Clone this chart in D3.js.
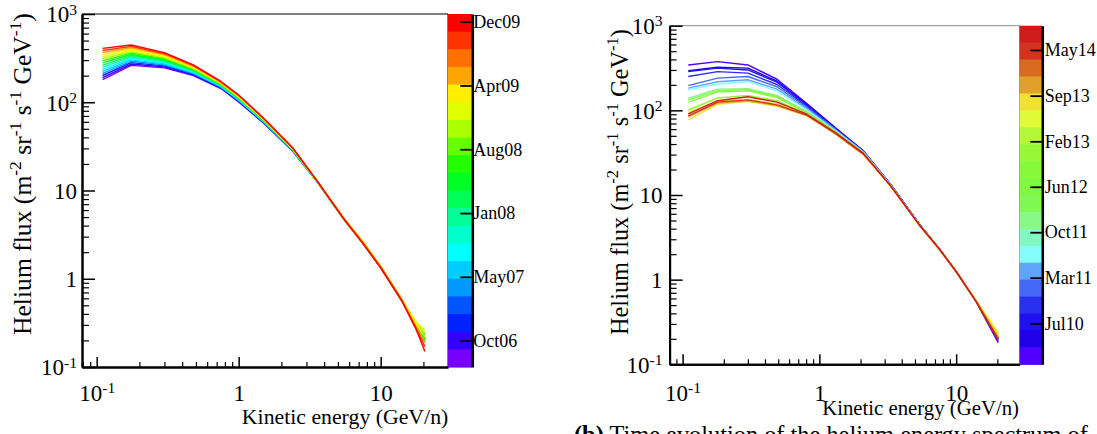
<!DOCTYPE html>
<html><head><meta charset="utf-8">
<script src="https://cdn.jsdelivr.net/npm/d3@7"></script>
<style>
html,body{margin:0;padding:0;background:#fff;}
svg{display:block;}
svg text{font-family:"Liberation Serif","Times New Roman","DejaVu Serif",serif;}
</style></head><body>
<svg id="c" width="1097" height="434"></svg>
<script>
// ---------- data ----------
const leftEnergy = [0.11,0.175,0.30,0.48,0.75,1.0,1.5,2.4,3.6,5.5,7.5,10,14,17.9,20.5];
const leftDates = ["2006-07-15","2006-10-05","2006-12-25","2007-03-20","2007-06-10","2007-09-01","2007-11-20","2008-02-10",
                   "2008-05-05","2008-07-25","2008-10-15","2009-01-05","2009-03-30","2009-06-20","2009-09-10","2009-12-15"];
const leftFlux = [
 [180,262,245,200,143,101,58.0,28.0,12.4,4.75,2.55,1.35,0.58,0.29,0.20],
 [190,271,252,204,145,102,58.5,28.2,12.3,4.70,2.50,1.33,0.57,0.29,0.21],
 [201,281,258,208,147,103.5,59.0,28.3,12.5,4.80,2.60,1.37,0.59,0.28,0.19],
 [212,291,265,211,148,105,59.5,28.5,12.4,4.75,2.55,1.36,0.58,0.30,0.22],
 [224,302,272,215,150,106,60.0,28.6,12.3,4.70,2.50,1.34,0.57,0.29,0.20],
 [236,313,280,220,152,107,60.5,28.8,12.5,4.80,2.60,1.37,0.60,0.30,0.21],
 [250,324,287,224,154,109,61.0,29.0,12.6,4.85,2.60,1.38,0.60,0.31,0.22],
 [264,336,295,228,156,110,61.5,29.1,12.4,4.75,2.55,1.35,0.58,0.29,0.20],
 [279,348,303,232,158,111,62.1,29.3,12.5,4.80,2.60,1.37,0.59,0.31,0.23],
 [294,360,311,237,160,113,62.6,29.5,12.6,4.85,2.65,1.38,0.60,0.30,0.21],
 [311,373,320,241,162,114,63.1,29.6,12.4,4.70,2.50,1.34,0.57,0.31,0.24],
 [328,387,328,246,164,115,63.7,29.8,12.5,4.80,2.60,1.36,0.59,0.32,0.26],
 [346,401,337,250,166,117,64.2,30.0,12.7,4.90,2.65,1.38,0.60,0.30,0.22],
 [366,415,346,255,168,118,64.8,30.2,12.6,4.85,2.60,1.37,0.59,0.28,0.19],
 [386,430,355,260,170,120,65.4,30.3,12.5,4.80,2.55,1.35,0.58,0.27,0.17],
 [408,446,365,265,172,121,66.0,30.5,12.6,4.75,2.50,1.33,0.57,0.26,0.15]
];
const rightEnergy = [0.11,0.18,0.30,0.49,0.81,1.3,2.1,3.3,5.4,7.5,10,14,20.3];
const rightDates = ["2010-01-15","2010-04-15","2010-06-15","2010-09-15","2011-01-15","2011-04-15","2011-08-01","2012-01-01",
                    "2012-05-01","2012-09-01","2013-01-01","2013-06-01","2013-09-15","2013-12-15","2014-04-01","2014-07-01"];
const rightFlux = [
 [344,376,344,233,120,63,33.0,13.5,4.50,2.35,1.25,0.56,0.19],
 [295,323,315,222,117,62,33.0,13.4,4.50,2.35,1.26,0.56,0.20],
 [287,315,300,215,115,62,33.0,13.4,4.50,2.33,1.25,0.55,0.18],
 [251,287,275,202,112,61,32.5,13.3,4.50,2.34,1.24,0.56,0.20],
 [196,240,251,190,108,60,32.5,13.3,4.50,2.35,1.25,0.56,0.21],
 [183,218,230,178,104,59,32.0,13.2,4.45,2.33,1.25,0.55,0.20],
 [175,205,218,170,101,58,32.0,13.2,4.45,2.34,1.24,0.56,0.21],
 [139,178,180,150,96,57,31.5,13.1,4.40,2.32,1.24,0.56,0.22],
 [133,171,175,146,95,56,31.5,13.1,4.40,2.33,1.25,0.57,0.23],
 [124,165,170,142,93,56,31.0,13.0,4.40,2.32,1.24,0.56,0.22],
 [101,140,150,130,90,55,31.0,13.0,4.40,2.33,1.25,0.57,0.23],
 [95,128,135,120,88,54,30.5,12.9,4.40,2.32,1.24,0.57,0.24],
 [77,118,127,112,86,53,30.0,12.9,4.35,2.30,1.24,0.56,0.22],
 [84,122,130,114,87,53,30.0,12.9,4.35,2.31,1.24,0.56,0.21],
 [86,125,133,116,88,54,30.5,12.9,4.40,2.31,1.24,0.55,0.20],
 [91,130,145,125,90,55,31.0,13.0,4.40,2.32,1.25,0.55,0.19]
];
const yTickValues = [0.1,1,10,100,1000];
const yTickLabels = ["10^-1","1","10","10^2","10^3"];
const xTickValues = [0.1,1,10];
const xTickLabels = ["10^-1","1","10"];
const leftBarLabels = ["Oct06","May07","Jan08","Aug08","Apr09","Dec09"];
const leftBarTickDates = ["2006-10-01","2007-05-21","2008-01-08","2008-08-27","2009-04-16","2009-12-04"];
const leftBarRange = ["2006-06-27","2010-01-01"];
const rightBarLabels = ["Jul10","Mar11","Oct11","Jun12","Feb13","Sep13","May14"];
const rightBarTickDates = ["2010-07-20","2011-03-10","2011-10-28","2012-06-16","2013-02-03","2013-09-24","2014-05-15"];
const rightBarRange = ["2009-12-23","2014-09-16"];
// palettes listed top -> bottom
const leftPalette = ["#ff0000","#ff3300","#ff7000","#ffa500","#ffee00","#dfff00","#aaff00","#66ff00","#22ff00","#00ff22",
                     "#00ff55","#00ff99","#00ffcc","#00ffff","#00ccff","#0099ff","#0055ff","#0022ff","#3300ff","#7700ff"];
const rightPalette = ["#d11c1c","#d4321f","#d86a22","#e0a02a","#f0e232","#e0fa38","#b4f838","#98f838","#88f83a","#80f840",
                      "#80f852","#88f888","#80f8c0","#84fcfc","#60a4f8","#4468f8","#2a30f0","#2010f0","#2000e8","#5000ff"];
const yTitle = ["Helium flux (m","^-2"," sr","^-1"," s","^-1"," GeV","^-1",")"];
const xTitle = "Kinetic energy (GeV/n)";
const captionBold = "(b)";
const captionText = " Time evolution of the helium energy spectrum of";

// ---------- drawing ----------
const FONT = "'Liberation Serif', 'Times New Roman', 'DejaVu Serif', serif";
const svg = d3.select("#c").attr("font-family", FONT);
const parse = d3.timeParse("%Y-%m-%d");

function setSupLabel(sel, str, size) {
  const parts = str.split("^");
  sel.text(null).attr("font-size", size).attr("font-family", FONT);
  sel.append("tspan").text(parts[0]);
  if (parts[1]) sel.append("tspan").attr("font-size", "0.68em").attr("dy", "-0.5em").text(parts[1]);
}

function minorTicks(dom) {
  const out = [];
  [0.01,0.1,1,10,100].forEach(d => { for (let m = 2; m <= 9; m++) { const v = +(m*d).toPrecision(3); if (v >= dom[0] && v <= dom[1]) out.push(v); } });
  return out;
}

function drawPanel(o) {
  const g = svg.append("g");
  const x = d3.scaleLog().domain(o.xDomain).range([o.x0, o.x1]);
  const y = d3.scaleLog().domain([0.1, 1000]).range([o.y1, o.y0]);
  const tr = o.barRange.map(parse);
  const bar = d3.scaleTime().domain(tr).range([o.y1, o.y0]);
  const nb = o.palette.length;
  const colorOf = s => {
    const f = (parse(s) - tr[0]) / (tr[1] - tr[0]);
    const i = Math.max(0, Math.min(nb - 1, nb - 1 - Math.floor(f * nb)));
    return o.palette[i];
  };
  // frame
  g.append("line").attr("x1", o.x0).attr("x2", o.x1).attr("y1", o.y0).attr("y2", o.y0)
    .attr("stroke", o.frameColor).attr("stroke-width", 1);
  g.append("line").attr("x1", o.x1).attr("x2", o.x1).attr("y1", o.y0).attr("y2", o.y1)
    .attr("stroke", o.frameColor).attr("stroke-width", 1);
  // series
  const line = d3.line().x((d, i) => x(o.energy[i])).y(d => y(d));
  g.append("g").selectAll("path").data(o.flux).join("path")
    .attr("d", line).attr("fill", "none")
    .attr("stroke", (d, i) => colorOf(o.dates[i]))
    .attr("stroke-width", 1.4).attr("stroke-linejoin", "round");
  // axes
  const styleAxis = (ax, w) => {
    ax.selectAll(".tick line").attr("stroke", "#000").attr("stroke-width", w);
    ax.select(".domain").attr("stroke", "#000").attr("stroke-width", 2);
    ax.attr("font-family", FONT);
  };
  const xMin = g.append("g").attr("transform", `translate(0,${o.y1})`)
    .call(d3.axisBottom(x).tickValues(minorTicks(o.xDomain)).tickSize(-5).tickSizeOuter(0).tickFormat(""));
  styleAxis(xMin, 1.2);
  const xMaj = g.append("g").attr("transform", `translate(0,${o.y1})`)
    .call(d3.axisBottom(x).tickValues(xTickValues).tickSize(-10).tickSizeOuter(0));
  styleAxis(xMaj, 1.5);
  xMaj.selectAll(".tick text").attr("y", o.xLabOff).attr("dy", null).attr("fill", "#000")
    .each(function(d, i) { setSupLabel(d3.select(this), xTickLabels[i], 23); });

  const yMin = g.append("g").attr("transform", `translate(${o.x0},0)`)
    .call(d3.axisLeft(y).tickValues(minorTicks([0.1, 1000])).tickSize(-7).tickSizeOuter(0).tickFormat(""));
  styleAxis(yMin, 1.2);
  const yMaj = g.append("g").attr("transform", `translate(${o.x0},0)`)
    .call(d3.axisLeft(y).tickValues(yTickValues).tickSize(-13).tickSizeOuter(0).tickPadding(o.yPad));
  styleAxis(yMaj, 1.5);
  yMaj.selectAll(".tick text").attr("fill", "#000").attr("dy", "0.34em")
    .each(function(d, i) { setSupLabel(d3.select(this), yTickLabels[i], 23); });

  // colorbar
  const bh = (o.y1 - o.y0) / nb;
  g.append("g").selectAll("rect").data(o.palette).join("rect")
    .attr("x", o.x1).attr("width", o.barW)
    .attr("y", (d, i) => o.y0 + i * bh).attr("height", bh + 0.6)
    .attr("fill", d => d);
  const bAx = g.append("g").attr("transform", `translate(${o.x1 + o.barW},0)`)
    .call(d3.axisRight(bar).tickValues(o.barTicks.map(parse)).tickSize(-12).tickSizeOuter(0).tickPadding(o.barPad)
      .tickFormat((d, i) => o.barLabels[i]));
  styleAxis(bAx, 1.8);
  bAx.select(".domain").attr("stroke-width", 2.5);
  bAx.selectAll(".tick text").attr("font-size", 18).attr("fill", "#000").attr("font-family", FONT);

  // titles
  const yt = g.append("text").attr("transform", `translate(${o.ytX},${o.ytY}) rotate(-90)`)
    .attr("text-anchor", "start").attr("font-size", 22).attr("fill", "#000").attr("font-family", FONT);
  let raised = false;
  yTitle.forEach(p => {
    if (p.startsWith("^")) { yt.append("tspan").attr("font-size", "0.68em").attr("dy", "-0.6em").text(p.slice(1)); raised = true; }
    else { const t = yt.append("tspan").text(p); if (raised) { t.attr("dy", "0.408em"); raised = false; } }
  });
  const yl = yt.node().getComputedTextLength();
  yt.attr("font-size", 22 * o.ytLen / yl);

  const xt = g.append("text").attr("x", o.xtX).attr("y", o.xtY).attr("text-anchor", "end")
    .attr("font-size", 20).attr("fill", "#000").attr("font-family", FONT).text(xTitle);
  const xl = xt.node().getComputedTextLength();
  xt.attr("font-size", 20 * o.xtLen / xl);
}

drawPanel({
  x0: 82, x1: 448, y0: 14, y1: 367, xDomain: [0.0788, 29.8],
  energy: leftEnergy, flux: leftFlux, dates: leftDates,
  palette: leftPalette, barRange: leftBarRange, barTicks: leftBarTickDates, barLabels: leftBarLabels,
  barW: 24.3, barPad: 1, frameColor: "#000", xLabOff: 34, yPad: 5,
  ytX: 31, ytY: 335, ytLen: 322, xtX: 448.3, xtY: 423.5, xtLen: 206.6
});
drawPanel({
  x0: 669.6, x1: 1019.6, y0: 25.7, y1: 364.3, xDomain: [0.0803, 29.1],
  energy: rightEnergy, flux: rightFlux, dates: rightDates,
  palette: rightPalette, barRange: rightBarRange, barTicks: rightBarTickDates, barLabels: rightBarLabels,
  barW: 22.7, barPad: 2.5, frameColor: "#8a8a8a", xLabOff: 37, yPad: 7,
  ytX: 628, ytY: 335, ytLen: 306, xtX: 1019, xtY: 414.7, xtLen: 197
});

// caption (cut by the bottom edge, as in the reference)
const cap = svg.append("text").attr("x", 574).attr("y", 442.5).attr("font-size", 22)
  .attr("fill", "#000").attr("font-family", FONT);
cap.append("tspan").attr("font-weight", "bold").text(captionBold);
cap.append("tspan").text(captionText);
const cl = cap.node().getComputedTextLength();
cap.attr("font-size", 22 * 514 / cl);
</script>
</body></html>
